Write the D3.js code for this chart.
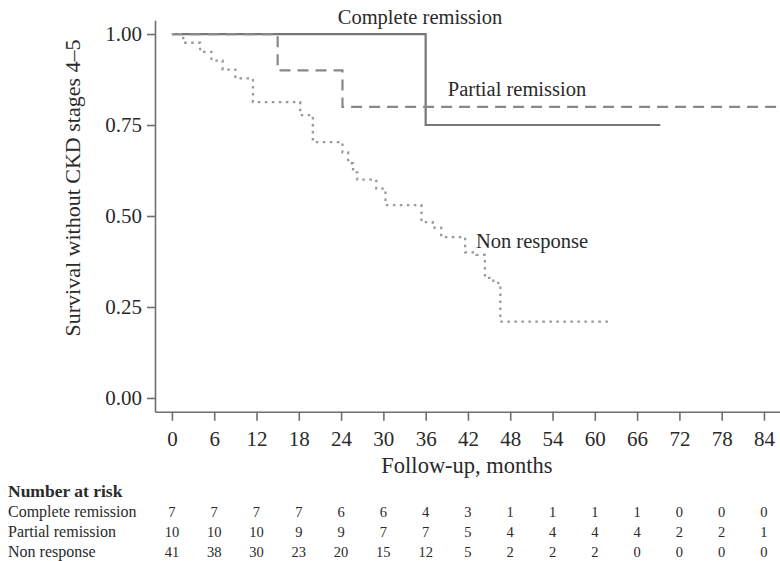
<!DOCTYPE html>
<html>
<head>
<meta charset="utf-8">
<script src="https://cdn.jsdelivr.net/npm/d3@7"></script>
<style>
  body { margin: 0; background: #fff; }
  text { font-family: "Liberation Serif", "DejaVu Serif", serif; fill: #2a2a2a; }
</style>
</head>
<body>
<div id="km"></div>
<script>
// month ticks and risk table
var months = [0, 6, 12, 18, 24, 30, 36, 42, 48, 54, 60, 66, 72, 78, 84];
var yTicks = [0, 0.25, 0.5, 0.75, 1];
var groups = ["Complete remission", "Partial remission", "Non response"];
var riskComplete = [7, 7, 7, 7, 6, 6, 4, 3, 1, 1, 1, 1, 0, 0, 0];
var riskPartial = [10, 10, 10, 9, 9, 7, 7, 5, 4, 4, 4, 4, 2, 2, 1];
var riskNon = [41, 38, 30, 23, 20, 15, 12, 5, 2, 2, 2, 0, 0, 0, 0];

// step curves: [month, survival]
var curveComplete = [[0, 1], [36, 0.75], [69.3, 0.75]];
var curvePartial = [[0, 1], [15, 0.9], [24.2, 0.8], [86.5, 0.8]];
var curveNon = [[0, 1], [1.6, 0.976], [4, 0.951], [5.6, 0.927], [7.2, 0.902], [9, 0.878],
  [11.5, 0.813], [18.2, 0.777], [20, 0.703], [24.2, 0.675], [25, 0.645], [25.7, 0.62],
  [26.3, 0.6], [29, 0.575], [30.3, 0.53], [35.4, 0.483], [37, 0.468], [38.2, 0.442],
  [41.6, 0.4], [43.2, 0.393], [44.4, 0.33], [45.6, 0.316], [46.6, 0.21], [62.3, 0.21]];

var width = 780, height = 561;

var svg = d3.select("#km")
  .append("svg")
    .attr("width", width)
    .attr("height", height);

var x = d3.scaleLinear()
  .domain([-2.4, 86.5])
  .range([155, 781.6]);

var y = d3.scaleLinear()
  .domain([-0.038, 1.038])
  .range([411.8, 20.2]);

// axes
var xAxis = svg.append("g")
  .attr("transform", "translate(0," + y(-0.038) + ")")
  .call(d3.axisBottom(x).tickValues(months).tickSize(9).tickSizeOuter(0).tickPadding(10));

var yAxis = svg.append("g")
  .attr("transform", "translate(" + x(-2.4) + ",0)")
  .call(d3.axisLeft(y).tickValues(yTicks).tickFormat(d3.format(".2f")).tickSize(8).tickSizeOuter(0).tickPadding(5));

svg.selectAll(".domain, .tick line")
  .attr("stroke", "#6f6f6f")
  .attr("stroke-width", 1.6);
svg.selectAll(".tick text")
  .attr("font-size", "21px")
  .attr("font-family", "Liberation Serif, serif")
  .attr("fill", "#2a2a2a");

// axis titles
svg.append("text")
  .attr("x", 467)
  .attr("y", 473)
  .style("text-anchor", "middle")
  .attr("font-size", "22.5px")
  .text("Follow-up, months");

svg.append("text")
  .attr("transform", "translate(80," + 188 + ") rotate(-90)")
  .style("text-anchor", "middle")
  .attr("font-size", "22px")
  .text("Survival without CKD stages 4\u20135");

// curves
var line = d3.line()
  .x(d => x(d[0]))
  .y(d => y(d[1]))
  .curve(d3.curveStepAfter);

svg.append("path")
  .datum(curveComplete)
  .attr("d", line)
  .attr("fill", "none")
  .attr("stroke", "#777")
  .attr("stroke-width", 2.2);

svg.append("path")
  .datum(curvePartial)
  .attr("d", line)
  .attr("fill", "none")
  .attr("stroke", "#888")
  .attr("stroke-width", 2.2)
  .attr("stroke-dasharray", "11,7");

svg.append("path")
  .datum(curveNon)
  .attr("d", line)
  .attr("fill", "none")
  .attr("stroke", "#999")
  .attr("stroke-width", 2.3)
  .attr("stroke-dasharray", "2.5,4.5");

// curve labels
svg.append("text").attr("x", 420).attr("y", 24).style("text-anchor", "middle")
  .attr("font-size", "20.5px").text("Complete remission");
svg.append("text").attr("x", 517).attr("y", 96).style("text-anchor", "middle")
  .attr("font-size", "20.5px").text("Partial remission");
svg.append("text").attr("x", 532).attr("y", 248).style("text-anchor", "middle")
  .attr("font-size", "20.5px").text("Non response");

// number at risk table
svg.append("text")
  .attr("x", 8)
  .attr("y", 497)
  .attr("font-size", "17.5px")
  .attr("font-weight", "bold")
  .text("Number at risk");

var rows = [riskComplete, riskPartial, riskNon];
rows.forEach(function(r, i) {
  var yy = 517 + i * 20;
  svg.append("text")
    .attr("x", 8)
    .attr("y", yy)
    .attr("font-size", "16px")
    .text(groups[i]);
  svg.append("g")
    .selectAll("text")
    .data(r)
    .enter()
    .append("text")
    .attr("x", (d, j) => x(months[j]))
    .attr("y", yy)
    .style("text-anchor", "middle")
    .attr("font-size", "14.5px")
    .text(d => d);
});
</script>
</body>
</html>
